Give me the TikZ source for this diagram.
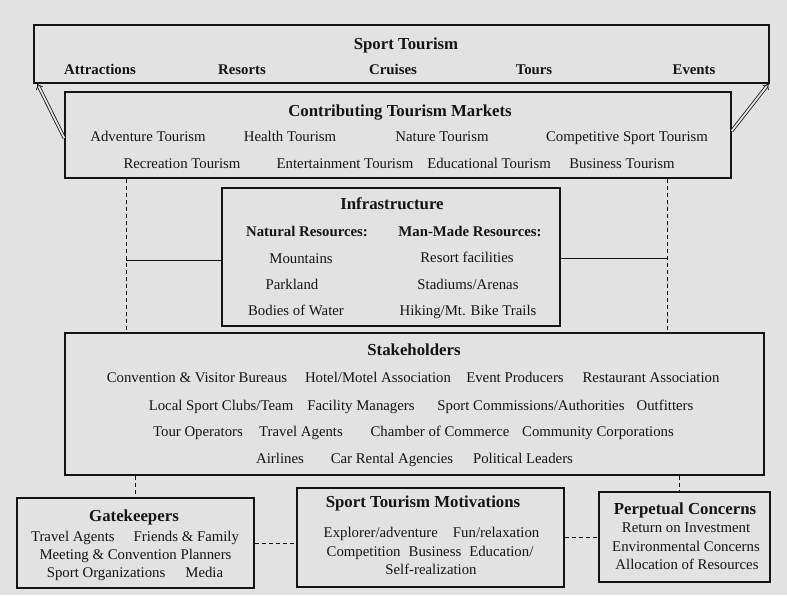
\documentclass[tikz,border=0pt]{standalone}
\usepackage{fontspec}
\setmainfont{Liberation Serif}
\usetikzlibrary{arrows.meta}
\definecolor{pagegray}{RGB}{226,226,226}
\definecolor{inkgray}{RGB}{20,20,20}
\tikzset{
    box/.style={draw=inkgray,line width=1.4pt,inner sep=0pt},
    item/.style={inner sep=0pt,text=inkgray,text height=0.66em,text depth=0pt,yshift=-1.5pt,font=\fontsize{14.8}{17}\selectfont},
    head/.style={item,font=\fontsize{14.8}{17}\selectfont\bfseries},
    ttl/.style={item,font=\fontsize{16.8}{20}\selectfont\bfseries},
    spine/.style={draw=inkgray,line width=0.8pt,dash pattern=on 4pt off 3pt},
    link/.style={draw=inkgray,line width=0.8pt},
    lift/.style={draw=inkgray,double=pagegray,double distance=1.8pt,line width=0.8pt,-{Implies}},
}
\begin{document}
\begin{tikzpicture}[x=1pt,y=-1pt]
        \fill[pagegray] (0,0) rectangle (787,595);
        \useasboundingbox (0,0) rectangle (787,595);
        \node[box,minimum width=735pt,minimum height=58pt] (st) at (401.5,54) {};
        \node[ttl] (st-t) at (406,45) {Sport Tourism};
        \foreach \x/\t [count=\i] in {100/Attractions,242/Resorts,393/Cruises,534/Tours,694/Events}
            \node[head] (st-\i) at (\x,70) {\t};
        \node[box,minimum width=666pt,minimum height=86pt] (cm) at (398,135) {};
        \node[ttl] (cm-t) at (400,112) {Contributing Tourism Markets};
        \foreach \x/\t [count=\i] in {148/Adventure Tourism,290/Health Tourism,442/Nature Tourism,627/Competitive Sport Tourism}
            \node[item] (cm-a\i) at (\x,137) {\t};
        \foreach \x/\t [count=\i] in {182/Recreation Tourism,345/Entertainment Tourism,489/Educational Tourism,622/Business Tourism}
            \node[item] (cm-b\i) at (\x,164) {\t};
        \draw[lift] ([yshift=-3pt]cm.west) -- ([xshift=4pt]st.south west);
        \draw[lift] ([yshift=4pt]cm.east) -- ([xshift=-1pt]st.south east);
        \node[box,minimum width=338pt,minimum height=138pt] (inf) at (391,257) {};
        \node[ttl] (inf-t) at (392,205) {Infrastructure};
        \node[head] (nat) at (307,232) {Natural Resources:};
        \node[head] (man) at (470,232) {Man-Made Resources:};
        \node[item] (nat-1) at (301,259) {Mountains};
        \node[item] (nat-2) at (292,285) {Parkland};
        \node[item] (nat-3) at (296,311) {Bodies of Water};
        \node[item] (man-1) at (467,258) {Resort facilities};
        \node[item] (man-2) at (468,285) {Stadiums/Arenas};
        \node[item] (man-3) at (468,311) {Hiking/Mt. Bike Trails};
        \node[box,minimum width=699pt,minimum height=142pt] (sh) at (414.5,404) {};
        \node[ttl] (sh-t) at (414,351) {Stakeholders};
        \foreach \x/\t [count=\i] in {197/Convention \& Visitor Bureaus,378/{Hotel/Motel Association},515/Event Producers,651/Restaurant Association}
            \node[item] (sh-a\i) at (\x,378) {\t};
        \foreach \x/\t [count=\i] in {221/{Local Sport Clubs/Team},361/Facility Managers,531/{Sport Commissions/Authorities},665/Outfitters}
            \node[item] (sh-b\i) at (\x,406) {\t};
        \foreach \x/\t [count=\i] in {198/Tour Operators,301/Travel Agents,440/Chamber of Commerce,598/Community Corporations}
            \node[item] (sh-c\i) at (\x,432) {\t};
        \foreach \x/\t [count=\i] in {280/Airlines,392/Car Rental Agencies,523/Political Leaders}
            \node[item] (sh-d\i) at (\x,459) {\t};
        \coordinate (lsp) at (126,260);
        \coordinate (rsp) at (667,258);
        \draw[spine] (lsp |- cm.south) -- (lsp |- sh.north);
        \draw[spine] (rsp |- cm.south) -- (rsp |- sh.north);
        \draw[link] (lsp) -- (lsp -| inf.west);
        \draw[link] (rsp) -- (rsp -| inf.east);
        \node[box,minimum width=237pt,minimum height=90pt] (gk) at (135.5,543) {};
        \node[ttl] (gk-t) at (134,517) {Gatekeepers};
        \node[item] (gk-1) at (135,537) {Travel Agents\hspace{19pt}Friends \& Family};
        \node[item] (gk-2) at (135.5,555) {Meeting \& Convention Planners};
        \node[item] (gk-3) at (135,573) {Sport Organizations\hspace{20pt}Media};
        \node[box,minimum width=267pt,minimum height=99pt] (mo) at (430.5,537.5) {};
        \node[ttl] (mo-t) at (423,503) {Sport Tourism Motivations};
        \node[item] (mo-1) at (431.5,533) {Explorer/adventure\hspace{15pt}Fun/relaxation};
        \node[item] (mo-2) at (430,552) {Competition\hspace{8pt}Business\hspace{8pt}Education/};
        \node[item] (mo-3) at (431,570) {Self-realization};
        \node[box,minimum width=171pt,minimum height=90pt] (pc) at (684.5,537) {};
        \node[ttl] (pc-t) at (685,510) {Perpetual Concerns};
        \node[item] (pc-1) at (686,528) {Return on Investment};
        \node[item] (pc-2) at (686,547) {Environmental Concerns};
        \node[item] (pc-3) at (687,565) {Allocation of Resources};
        \draw[spine] (gk.north |- sh.south) -- (gk.north);
        \draw[spine] ([xshift=-5pt]pc.north |- sh.south) -- ([xshift=-5pt]pc.north);
        \draw[spine] (gk.east) -- (gk.east -| mo.west);
        \draw[spine] (mo.east) -- (mo.east -| pc.west);
\end{tikzpicture}
\end{document}
